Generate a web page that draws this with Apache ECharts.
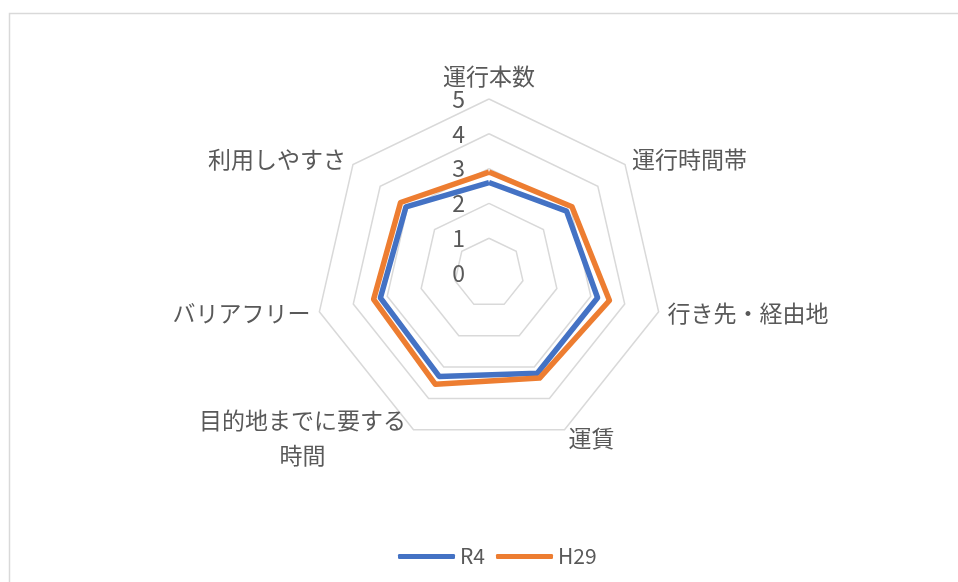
<!DOCTYPE html>
<html>
<head>
<meta charset="utf-8">
<script src="https://cdn.jsdelivr.net/npm/echarts@6/dist/echarts.min.js"></script>
<style>
  html, body { margin: 0; padding: 0; background: #fff; }
  #chart { width: 958px; height: 582px; }
</style>
</head>
<body>
<div id="chart"></div>
<script>
// indicator names, clockwise from top
const indicatorNames = [
  "運行本数",
  "運行時間帯",
  "行き先・経由地",
  "運賃",
  "目的地までに要する\n時間",
  "バリアフリー",
  "利用しやすさ"
];
const seriesNames = ["R4", "H29"];
const valuesR4 = [2.6, 2.85, 3.2, 3.2, 3.3, 3.2, 3.05];
const valuesH29 = [2.9, 3.05, 3.55, 3.35, 3.55, 3.4, 3.25];
const axisMin = 0;
const axisMax = 5;

const textColor = "#595959";
const gridColor = "#D9D9D9";
const font = "'Noto Sans CJK JP', 'Noto Sans', sans-serif";
const numFont = "'Liberation Sans Narrow', 'Noto Sans CJK JP', sans-serif";

// echarts lays indicators out counter-clockwise, the reference goes clockwise
function clockwise(arr) {
  return [arr[0]].concat(arr.slice(1).reverse());
}

let myChart = echarts.init(document.getElementById("chart"));

let indicators = clockwise(indicatorNames).map(function (name, i) {
  let ind = { name: name, min: axisMin, max: axisMax };
  // only the top axis carries the tick labels
  if (i === 0) {
    ind.axisLabel = { show: true };
  }
  return ind;
});

let option = {
  backgroundColor: "#fff",
  animation: false,
  graphic: [
    {
      type: "rect",
      shape: { x: 9.5, y: 13.5, width: 1000, height: 1000 },
      style: { fill: "none", stroke: gridColor, lineWidth: 1.5 },
      silent: true
    }
  ],
  legend: {
    data: seriesNames,
    bottom: 10,
    left: 393,
    itemWidth: 57,
    itemHeight: 5,
    itemGap: 11,
    icon: "roundRect",
    textStyle: { color: textColor, fontSize: 21, fontFamily: numFont }
  },
  radar: {
    center: [489, 273],
    radius: 174,
    startAngle: 90,
    splitNumber: 5,
    shape: "polygon",
    indicator: indicators,
    axisName: {
      color: textColor,
      fontSize: 23,
      fontFamily: font,
      formatter: function (name) {
        if (name.indexOf("\n") >= 0) {
          return "{c|" + name + "}";
        }
        return name;
      },
      rich: {
        c: {
          color: textColor,
          fontSize: 23,
          fontFamily: font,
          align: "center",
          width: 214,
          lineHeight: 35
        }
      }
    },
    nameGap: 9,
    axisLine: { show: false },
    axisTick: { show: false },
    axisLabel: {
      show: false,
      color: textColor,
      fontSize: 23,
      fontFamily: numFont,
      margin: 24
    },
    splitLine: { lineStyle: { color: gridColor, width: 1.5 } },
    splitArea: { show: false }
  },
  series: [
    {
      type: "radar",
      symbol: "none",
      data: [
        {
          name: seriesNames[0],
          value: clockwise(valuesR4),
          lineStyle: { color: "#4472C4", width: 5.5 },
          itemStyle: { color: "#4472C4" }
        },
        {
          name: seriesNames[1],
          value: clockwise(valuesH29),
          lineStyle: { color: "#ED7D31", width: 5.5 },
          itemStyle: { color: "#ED7D31" }
        }
      ]
    }
  ]
};

myChart.setOption(option);
</script>
</body>
</html>
